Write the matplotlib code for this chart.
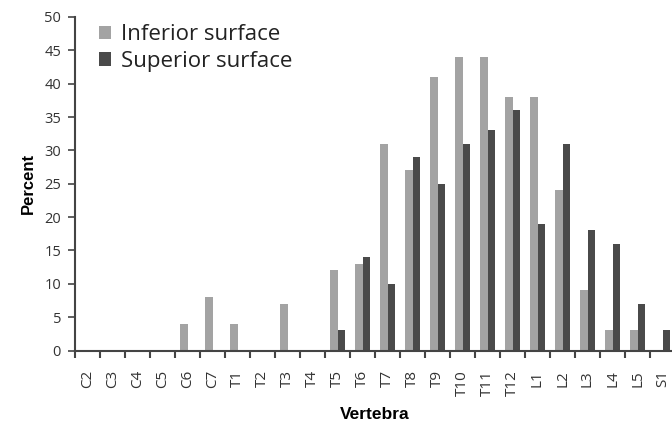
import matplotlib
matplotlib.use("Agg")
import matplotlib.pyplot as plt
import numpy as np

categories = ["C2", "C3", "C4", "C5", "C6", "C7", "T1", "T2", "T3", "T4", "T5", "T6",
              "T7", "T8", "T9", "T10", "T11", "T12", "L1", "L2", "L3", "L4", "L5", "S1"]
inferior = [0, 0, 0, 0, 4, 8, 4, 0, 7, 0, 12, 13, 31, 27, 41, 44, 44, 38, 38, 24, 9, 3, 3, 0]
superior = [0, 0, 0, 0, 0, 0, 0, 0, 0, 0, 3, 14, 10, 29, 25, 31, 33, 36, 19, 31, 18, 16, 7, 3]
yticks = [0, 5, 10, 15, 20, 25, 30, 35, 40, 45, 50]

W, H = 672, 428
fig = plt.figure(figsize=(W / 100, H / 100), dpi=100)
ax = fig.add_axes([75 / W, 1 - 350.5 / H, 600 / W, 333.5 / H])

x = np.arange(len(categories))
bw = 0.29
ax.bar(x - bw / 2, inferior, bw, color="#a3a3a3", label="Inferior surface", zorder=2)
ax.bar(x + bw / 2, superior, bw, color="#4a4a4a", label="Superior surface", zorder=2)

ax.set_xlim(-0.5, len(categories) - 0.5)
ax.set_ylim(0, 50)
ax.set_yticks(yticks)
ax.set_yticklabels([str(v) for v in yticks], fontfamily="Open Sans", fontsize=10.5, color="#333333")
ax.set_xticks(x)
ax.set_xticklabels(categories, rotation=90, fontfamily="Open Sans", fontsize=11, color="#333333")
ax.tick_params(axis="x", which="major", length=0, pad=14)
ax.set_xticks(np.arange(-0.5, len(categories), 1), minor=True)
ax.tick_params(axis="x", which="minor", length=5, width=1.5, color="#444444", direction="out")
ax.tick_params(axis="y", length=5, width=1.2, color="#444444", direction="out", pad=5)

for s in ["top", "right"]:
    ax.spines[s].set_visible(False)
for s in ["left", "bottom"]:
    ax.spines[s].set_color("#444444")
    ax.spines[s].set_linewidth(1.5)

ax.set_ylabel("Percent", fontfamily="Liberation Sans", fontweight="bold", fontsize=12, labelpad=6)
ax.set_xlabel("Vertebra", fontfamily="Liberation Sans", fontweight="bold", fontsize=12.5, labelpad=8)

leg = ax.legend(loc="upper left", bbox_to_anchor=(0.025, 1.005), frameon=False,
                prop={"family": "Open Sans", "size": 16}, handlelength=0.55, handleheight=0.55,
                handletextpad=0.45, labelspacing=0.25, borderaxespad=0)
for t in leg.get_texts():
    t.set_color("#222222")

fig.savefig("out.png", dpi=100)
